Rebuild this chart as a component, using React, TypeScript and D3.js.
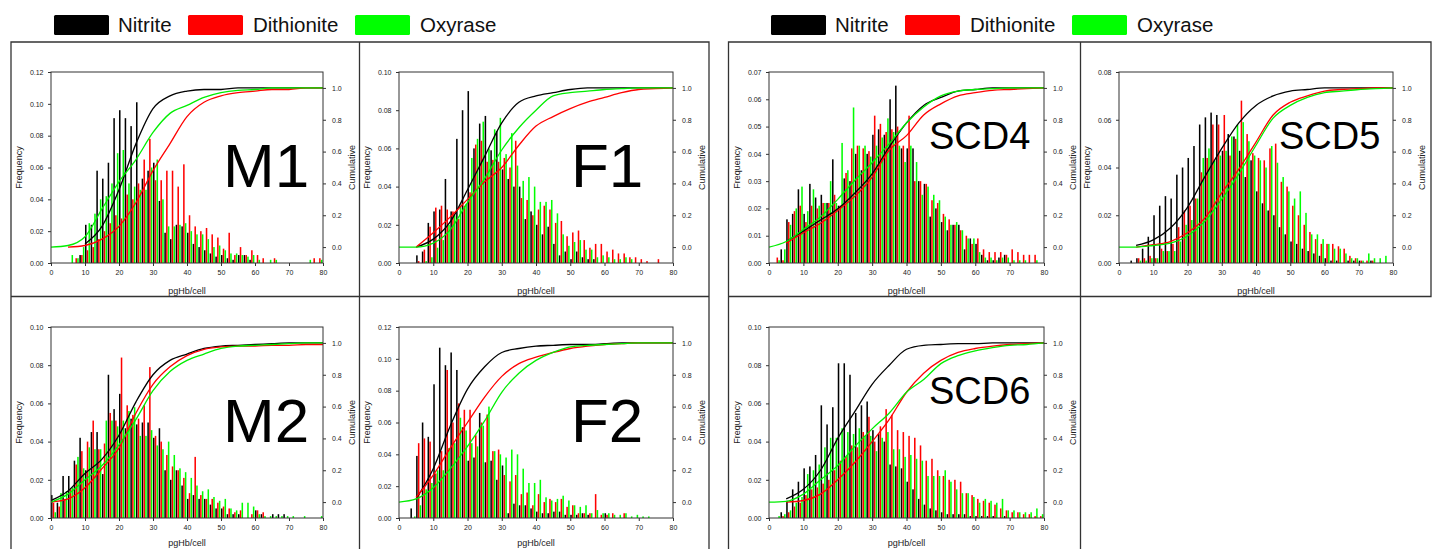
import * as d3 from 'd3';
import { useEffect, useRef } from 'react';

// histogram bins are 80/48 pgHb wide, bin k starts at k * BIN
const BIN = 80 / 48;
const CUM_X = [0, 5, 10, 15, 20, 25, 30, 35, 40, 45, 50, 55, 60, 65, 70, 75, 80];
const X_TICKS = [0, 10, 20, 30, 40, 50, 60, 70, 80];
const CUM_TICKS = [0, 0.2, 0.4, 0.6, 0.8, 1.0];
const SERIES_NAMES = ['Nitrite', 'Dithionite', 'Oxyrase'];
const SERIES_COLORS = ['#000000', '#ff0000', '#00ff00'];

// ---- M1 ----
const m1Nitrite = [0, 0, 0, 0, 0, .005, .024, .024, .058, .053, .063, .091, .096, .091, .086, .101, .053, .058, .063, .039, .019, .015, .024, .023, .019, .012, .010, .008, .006, .004, .005, .003, .002, .005, .005, .002, 0, 0, 0, 0, 0, 0, 0, 0, 0, 0, 0, 0, 0];
const m1Dithionite = [0, 0, 0, 0, .003, .005, .008, .010, .015, .020, .025, .030, .028, .043, .040, .050, .065, .078, .052, .052, .058, .058, .048, .062, .030, .023, .020, .022, .018, .016, .009, .019, .005, .010, .005, .008, .005, .003, 0, .003, 0, 0, 0, 0, 0, 0, .003, .003, 0];
const m1Oxyrase = [0, 0, 0, .005, .003, .010, .025, .031, .040, .042, .050, .069, .071, .050, .048, .046, .046, .060, .065, .040, .023, .023, .024, .025, .020, .018, .018, .015, .010, .011, .008, .006, .006, .005, .004, .005, .002, 0, .002, .002, 0, 0, 0, 0, 0, .002, 0, .002, 0];
const m1NitriteCum = [null, null, .02, .13, .36, .65, .87, .95, .98, .99, .99, 1, 1, 1, 1, 1, 1];
const m1DithioniteCum = [null, 0, .01, .05, .13, .28, .48, .65, .82, .91, .95, .97, .98, .99, .99, 1, 1];
const m1OxyraseCum = [0, .01, .065, .24, .41, .55, .72, .84, .89, .94, .97, .985, .99, 1, 1, 1, 1];

// ---- F1 ----
const f1Nitrite = [0, 0, 0, .004, .006, .021, .027, .028, .044, .027, .065, .080, .090, .060, .073, .077, .059, .069, .049, .044, .040, .040, .023, .027, .020, .015, .019, .010, .004, .006, .002, .006, .003, .002, .002, 0, 0, 0, 0, 0, 0, 0, 0, 0, 0, 0, 0, 0, 0];
const f1Dithionite = [0, 0, 0, .001, .007, .019, .029, .030, .028, .027, .023, .030, .037, .062, .064, .053, .054, .053, .055, .050, .064, .034, .033, .025, .028, .030, .028, .021, .022, .014, .016, .017, .012, .008, .010, .010, .006, .007, .005, .005, .003, .003, .002, .001, 0, .002, 0, 0, 0];
const f1Oxyrase = [0, 0, 0, 0, .001, .003, .008, .012, .020, .025, .030, .031, .055, .065, .074, .060, .070, .076, .057, .068, .051, .043, .045, .040, .032, .032, .033, .026, .015, .009, .011, .012, .007, .007, .003, .004, .003, .002, .002, .003, .002, 0, 0, 0, 0, 0, 0, 0, 0];
const f1NitriteCum = [null, 0, .05, .16, .36, .57, .78, .91, .95, .97, .99, 1, 1, 1, 1, 1, 1];
const f1DithioniteCum = [null, 0, .09, .19, .30, .41, .50, .64, .76, .82, .87, .91, .94, .97, .99, .995, 1];
const f1OxyraseCum = [0, 0, .025, .11, .28, .43, .61, .75, .86, .95, .97, .98, .99, .995, 1, 1, 1];

// ---- M2 ----
const m2Nitrite = [.012, .008, .022, .022, .030, .042, .025, .045, .045, .023, .075, .057, .065, .047, .052, .049, .050, .050, .042, .047, .025, .020, .025, .017, .010, .012, .010, .010, .007, .005, .005, .002, .002, .002, 0, 0, .004, .002, 0, .002, .002, .002, 0, 0, 0, 0, 0, 0, 0];
const m2Dithionite = [.008, .006, .010, .015, .028, .035, .040, .051, .036, .039, .055, .051, .084, .059, .054, .052, .059, .079, .043, .040, .033, .027, .025, .021, .013, .032, .012, .010, .010, .008, .006, .005, .003, .004, 0, .002, .004, .003, 0, 0, 0, 0, 0, 0, 0, 0, 0, 0, 0];
const m2Oxyrase = [.003, .013, .014, .016, .032, .026, .037, .036, .036, .051, .051, .048, .051, .056, .058, .043, .043, .046, .038, .036, .040, .033, .026, .024, .021, .017, .014, .015, .011, .009, .010, .005, .004, .008, .008, .006, .002, .001, .001, .001, .001, .001, .001, 0, .001, 0, 0, .001, 0];
const m2NitriteCum = [.01, .07, .18, .27, .42, .63, .80, .89, .93, .965, .98, .985, .99, .995, 1, 1, 1];
const m2DithioniteCum = [0, .02, .09, .21, .34, .56, .74, .85, .92, .96, .975, .98, .98, .985, .985, .99, .99];
const m2OxyraseCum = [0, .05, .14, .23, .36, .52, .70, .82, .89, .93, .965, .98, .985, .99, .995, 1, 1];

// ---- F2 ----
const f2Nitrite = [0, 0, .006, .039, .060, .051, .084, .107, .096, .104, .093, .057, .036, .038, .066, .035, .036, .024, .033, .003, .009, .008, .008, .006, .004, .003, .003, .004, .004, .002, .002, .002, .003, .002, 0, 0, .003, 0, 0, 0, 0, 0, 0, 0, 0, 0, 0, 0, 0];
const f2Dithionite = [0, 0, 0, .047, .050, .048, .028, .042, .093, .060, .072, .068, .068, .052, .060, .065, .042, .043, .027, .023, .027, .015, .016, .008, .015, .010, .012, .010, .012, .007, .008, .003, .003, .003, .015, .002, .002, .003, 0, .003, 0, 0, 0, 0, 0, 0, 0, 0, 0];
const f2Oxyrase = [0, 0, .001, .008, .018, .022, .030, .030, .044, .047, .063, .055, .047, .045, .058, .070, .042, .040, .038, .043, .040, .031, .022, .022, .024, .013, .011, .012, .014, .011, .008, .007, .008, .003, .005, .003, .003, .002, .002, .003, .001, .002, .001, .001, 0, 0, 0, 0, 0];
const f2NitriteCum = [null, .02, .21, .48, .71, .85, .94, .965, .98, .985, .99, .99, .995, 1, 1, 1, 1];
const f2DithioniteCum = [null, .03, .17, .34, .50, .66, .79, .87, .91, .94, .965, .98, .99, .995, 1, 1, 1];
const f2OxyraseCum = [0, .02, .09, .21, .35, .51, .69, .81, .89, .94, .975, .985, .99, .995, 1, 1, 1];

// ---- SCD4 ----
const scd4Nitrite = [0, 0, .005, .016, .018, .027, .018, .029, .024, .025, .022, .038, .021, .031, .030, .040, .034, .040, .047, .049, .047, .060, .065, .042, .042, .042, .030, .029, .017, .020, .015, .012, .014, .014, .005, .009, .007, .003, .001, .001, .002, .003, 0, 0, 0, 0, 0, 0, 0];
const scd4Dithionite = [0, .002, .001, .015, .019, .021, .015, .021, .020, .022, .022, .025, .021, .033, .042, .043, .042, .041, .054, .051, .048, .049, .050, .043, .054, .030, .030, .029, .023, .022, .018, .016, .014, .012, .010, .007, .009, .005, .004, .004, .004, .003, .005, .004, .003, .003, .003, 0, .002];
const scd4Oxyrase = [0, .001, .005, .014, .020, .028, .019, .027, .021, .022, .030, .022, .044, .034, .057, .043, .043, .039, .043, .046, .053, .048, .043, .037, .043, .037, .025, .028, .025, .023, .017, .014, .015, .012, .009, .009, .004, .002, .002, .001, .002, .002, .001, .001, .001, 0, .001, 0, 0];
const scd4NitriteCum = [null, .035, .10, .17, .24, .34, .46, .63, .78, .89, .94, .98, .99, 1, 1, 1, 1];
const scd4DithioniteCum = [null, .025, .09, .15, .23, .32, .44, .61, .70, .83, .90, .95, .97, .985, .99, .995, 1];
const scd4OxyraseCum = [0, .035, .11, .19, .30, .42, .53, .65, .78, .88, .95, .98, .99, .995, 1, 1, 1];

// ---- SCD5 ----
const scd5Nitrite = [0, 0, .001, .002, .006, .011, .020, .024, .028, .027, .037, .040, .044, .049, .058, .061, .063, .062, .047, .054, .053, .047, .036, .043, .030, .025, .022, .020, .015, .012, .009, .008, .006, .005, .004, .003, .002, .001, .001, 0, .001, .001, .001, 0, .001, 0, 0, 0, 0];
const scd5Dithionite = [0, 0, 0, .002, .002, .003, .002, .006, .005, .008, .015, .022, .024, .027, .038, .044, .058, .058, .062, .045, .052, .068, .054, .046, .044, .043, .048, .050, .034, .032, .024, .020, .016, .013, .010, .008, .008, .008, .007, .006, .003, .002, .001, .001, .001, 0, 0, 0, 0];
const scd5Oxyrase = [0, 0, 0, .001, .001, .002, .002, .005, .005, .005, .009, .016, .018, .027, .044, .048, .043, .045, .047, .053, .058, .059, .051, .045, .043, .040, .049, .042, .036, .030, .027, .030, .021, .012, .012, .010, .008, .006, .006, .004, .002, .002, .001, .004, .002, .002, .003, 0, 0];
const scd5NitriteCum = [null, .01, .045, .12, .25, .44, .62, .78, .89, .95, .98, .99, 1, 1, 1, 1, 1];
const scd5DithioniteCum = [null, 0, .015, .035, .09, .18, .34, .49, .66, .83, .91, .95, .98, .99, .995, 1, 1];
const scd5OxyraseCum = [0, 0, .01, .025, .07, .16, .30, .46, .64, .81, .89, .94, .97, .98, .99, .995, 1];

// ---- SCD6 ----
const scd6Nitrite = [0, 0, .003, .009, .015, .019, .026, .027, .033, .059, .049, .058, .081, .081, .075, .055, .059, .061, .046, .044, .040, .028, .027, .026, .019, .015, .010, .007, .005, .004, .003, .002, .002, .002, .002, .001, .001, .001, .001, .001, 0, .001, 0, 0, 0, 0, 0, 0, 0];
const scd6Dithionite = [0, 0, .001, .003, .006, .008, .012, .015, .016, .018, .020, .025, .030, .032, .038, .037, .045, .053, .040, .048, .057, .054, .046, .045, .043, .042, .038, .030, .031, .025, .022, .020, .020, .019, .013, .012, .010, .009, .008, .007, .005, .004, .003, .003, .002, .002, .001, .001, 0];
const scd6Oxyrase = [0, .001, .002, .004, .008, .011, .023, .025, .028, .037, .042, .042, .047, .045, .044, .047, .043, .043, .035, .042, .045, .036, .036, .032, .033, .031, .030, .022, .022, .022, .025, .019, .015, .013, .013, .011, .008, .010, .009, .008, .010, .004, .004, .003, .003, .003, .005, .002, .002];
const scd6NitriteCum = [null, .02, .08, .20, .40, .57, .74, .86, .96, .985, .99, .995, .995, 1, 1, 1, 1];
const scd6DithioniteCum = [null, 0, .01, .05, .14, .25, .38, .52, .69, .81, .89, .94, .965, .98, .99, .995, 1];
const scd6OxyraseCum = [0, .005, .05, .14, .23, .35, .46, .56, .69, .77, .87, .92, .95, .97, .985, .99, 1];

type Panel = {
    name: string;
    freq: number[][];
    cum: (number | null)[][];
    yMax: number;
    yStep: number;
    x: number;
    y: number;
    w: number;
    h: number;
    big: boolean;
    titleDy: number;
};

const panels: Panel[] = [
    { name: 'M1', freq: [m1Nitrite, m1Dithionite, m1Oxyrase], cum: [m1NitriteCum, m1DithioniteCum, m1OxyraseCum], yMax: 0.12, yStep: 0.02, x: 51, y: 72, w: 272, h: 191, big: true, titleDy: 31 },
    { name: 'F1', freq: [f1Nitrite, f1Dithionite, f1Oxyrase], cum: [f1NitriteCum, f1DithioniteCum, f1OxyraseCum], yMax: 0.10, yStep: 0.02, x: 399, y: 72, w: 274, h: 191, big: true, titleDy: 31 },
    { name: 'M2', freq: [m2Nitrite, m2Dithionite, m2Oxyrase], cum: [m2NitriteCum, m2DithioniteCum, m2OxyraseCum], yMax: 0.10, yStep: 0.02, x: 51, y: 327, w: 272, h: 191, big: true, titleDy: 28 },
    { name: 'F2', freq: [f2Nitrite, f2Dithionite, f2Oxyrase], cum: [f2NitriteCum, f2DithioniteCum, f2OxyraseCum], yMax: 0.12, yStep: 0.02, x: 399, y: 327, w: 274, h: 191, big: true, titleDy: 28 },
    { name: 'SCD4', freq: [scd4Nitrite, scd4Dithionite, scd4Oxyrase], cum: [scd4NitriteCum, scd4DithioniteCum, scd4OxyraseCum], yMax: 0.07, yStep: 0.01, x: 769, y: 72, w: 275, h: 191, big: false, titleDy: 31 },
    { name: 'SCD5', freq: [scd5Nitrite, scd5Dithionite, scd5Oxyrase], cum: [scd5NitriteCum, scd5DithioniteCum, scd5OxyraseCum], yMax: 0.08, yStep: 0.02, x: 1119, y: 72, w: 274, h: 191, big: false, titleDy: 31 },
    { name: 'SCD6', freq: [scd6Nitrite, scd6Dithionite, scd6Oxyrase], cum: [scd6NitriteCum, scd6DithioniteCum, scd6OxyraseCum], yMax: 0.10, yStep: 0.02, x: 769, y: 327, w: 275, h: 191, big: false, titleDy: 28 },
];

const FONT = '"Liberation Sans", Arial, sans-serif';
const FRAME = '#333';

export default function App() {
    const svgRef = useRef<SVGSVGElement>(null);
    const width = 1432;
    const height = 549;

    useEffect(() => {
        const svg = d3.select(svgRef.current);
        svg.selectAll('*').remove();

        svg.append('rect').attr('width', width).attr('height', height).attr('fill', 'white');

        // outer boxes around the panel groups
        const boxes = svg.append('g').attr('fill', 'none').attr('stroke', FRAME).attr('stroke-width', 1.3);
        boxes.append('path').attr('d', 'M11,560 V42 H709 V560 M359.5,42 V560 M11,296.5 H709');
        boxes.append('path').attr('d', 'M728.5,560 V42 H1431 V296.5 H728.5 M1080.5,42 V560');

        // legends
        [0, 717].forEach((off) => {
            const lg = svg.append('g').attr('transform', `translate(${off},0)`);
            const rx = [54, 188, 355];
            const tx = [118, 253, 420];
            SERIES_NAMES.forEach((name, i) => {
                lg.append('rect')
                    .attr('x', rx[i]).attr('y', 15)
                    .attr('width', 55).attr('height', 20)
                    .attr('rx', 1.5)
                    .attr('fill', SERIES_COLORS[i]);
                lg.append('text')
                    .attr('x', tx[i]).attr('y', 32.3)
                    .style('font-family', FONT)
                    .style('font-size', '20.5px')
                    .attr('fill', '#111')
                    .text(name);
            });
        });

        panels.forEach((p, pi) => {
            const g = svg.append('g').attr('transform', `translate(${p.x},${p.y})`);
            const xScale = d3.scaleLinear().domain([0, 80]).range([0, p.w]);
            const yScale = d3.scaleLinear().domain([0, p.yMax]).range([p.h, 0]);
            const cScale = d3.scaleLinear().domain([-0.1, 1.1]).range([p.h, 0]);

            const clipId = `clip-${pi}`;
            g.append('clipPath').attr('id', clipId)
                .append('rect').attr('width', p.w).attr('height', p.h);

            const plot = g.append('g').attr('clip-path', `url(#${clipId})`);
            const barW = xScale(0.45) - xScale(0);

            p.freq.forEach((values, si) => {
                plot.append('g')
                    .selectAll('rect')
                    .data(values.map((f, k) => ({ f, k })).filter((d) => d.f > 0))
                    .enter()
                    .append('rect')
                    .attr('x', (d) => xScale(d.k * BIN + si * 0.52))
                    .attr('y', (d) => yScale(d.f))
                    .attr('width', barW)
                    .attr('height', (d) => p.h - yScale(d.f))
                    .attr('fill', SERIES_COLORS[si]);
            });

            const line = d3.line<[number, number | null]>()
                .defined((d) => d[1] !== null)
                .x((d) => xScale(d[0]))
                .y((d) => cScale(d[1] as number))
                .curve(d3.curveMonotoneX);

            p.cum.forEach((values, si) => {
                const pts = CUM_X.map((x, i) => [x, values[i]] as [number, number | null]);
                plot.append('path')
                    .attr('d', line(pts))
                    .attr('fill', 'none')
                    .attr('stroke', si === 2 ? '#00ee00' : SERIES_COLORS[si])
                    .attr('stroke-width', 1.3);
            });

            // frame
            g.append('rect')
                .attr('width', p.w).attr('height', p.h)
                .attr('fill', 'none').attr('stroke', FRAME).attr('stroke-width', 1);

            const yTicks = d3.range(0, p.yMax + 1e-9, p.yStep);

            const left = g.append('g')
                .call(d3.axisLeft(yScale).tickValues(yTicks).tickFormat(d3.format('.2f')).tickSize(3).tickPadding(4.5));
            const bottom = g.append('g')
                .attr('transform', `translate(0,${p.h})`)
                .call(d3.axisBottom(xScale).tickValues(X_TICKS).tickFormat(d3.format('d')).tickSize(3).tickPadding(4.5));
            const right = g.append('g')
                .attr('transform', `translate(${p.w},0)`)
                .call(d3.axisRight(cScale).tickValues(CUM_TICKS).tickFormat(d3.format('.1f')).tickSize(3).tickPadding(6));

            [left, bottom, right].forEach((ax) => {
                ax.select('.domain').remove();
                ax.selectAll('line').attr('stroke', FRAME);
                ax.selectAll('text')
                    .style('font-family', FONT)
                    .style('font-size', '7px')
                    .attr('fill', '#222');
            });

            g.append('text')
                .attr('transform', `translate(-29.5,${p.h / 2}) rotate(-90)`)
                .attr('text-anchor', 'middle')
                .style('font-family', FONT)
                .style('font-size', '9px')
                .attr('fill', '#222')
                .text('Frequency');

            g.append('text')
                .attr('transform', `translate(${p.w + 32},${p.h / 2}) rotate(-90)`)
                .attr('text-anchor', 'middle')
                .style('font-family', FONT)
                .style('font-size', '9px')
                .attr('fill', '#222')
                .text('Cumulative');

            g.append('text')
                .attr('x', p.w / 2)
                .attr('y', p.h + p.titleDy)
                .attr('text-anchor', 'middle')
                .style('font-family', FONT)
                .style('font-size', '9px')
                .attr('fill', '#222')
                .text('pgHb/cell');

            g.append('text')
                .attr('x', p.big ? 172 : 160)
                .attr('y', p.big ? 115 : 77)
                .style('font-family', FONT)
                .style('font-size', p.big ? '62px' : '38px')
                .attr('fill', '#000')
                .text(p.name);
        });
    }, []);

    return (
        <svg
            ref={svgRef}
            width={width}
            height={height}
            style={{ position: 'absolute', left: 0, top: 0, display: 'block' }}
        ></svg>
    );
}
